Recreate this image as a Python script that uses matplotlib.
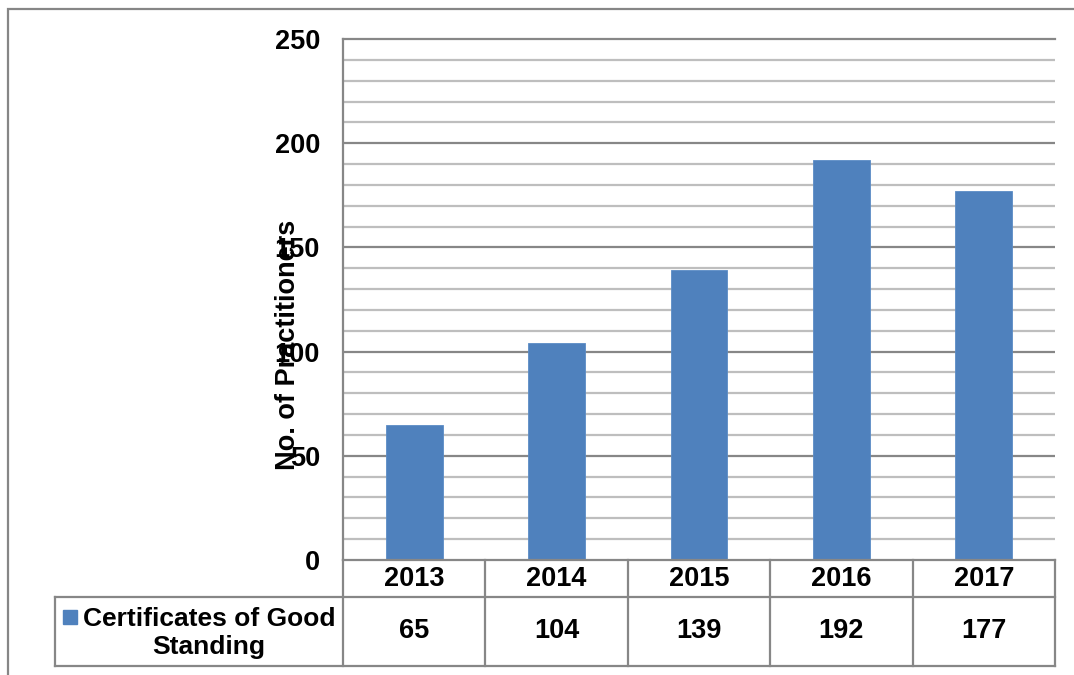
import matplotlib
matplotlib.use("Agg")
import matplotlib.pyplot as plt
from matplotlib.patches import Rectangle
from matplotlib.lines import Line2D

years = ["2013", "2014", "2015", "2016", "2017"]
values = [65, 104, 139, 192, 177]
series_name = "Certificates of Good\nStanding"
y_label = "No. of Practitioners"
y_ticks = [0, 50, 100, 150, 200, 250]

W, H = 1074, 675
fig = plt.figure(figsize=(W / 100, H / 100), dpi=100)
plt.rcParams['font.family'] = ['Liberation Sans', 'DejaVu Sans']
FS = 19.5

def fx(px):
    return px / W

def fy(py):
    return 1 - py / H

L, R, T, B = 343, 1055, 39, 560
ax = fig.add_axes([fx(L), fy(B), fx(R) - fx(L), fy(T) - fy(B)])

bar_color = "#4F81BD"
x = list(range(len(years)))
ax.bar(x, values, width=0.4, color=bar_color, edgecolor="#5B8CC6", linewidth=0.6, zorder=3)
ax.set_xlim(-0.5, len(years) - 0.5)
ax.set_ylim(0, 250)

# gridlines
for v in range(10, 250, 10):
    if v % 50 == 0:
        ax.axhline(v, color="#878787", lw=1.6, zorder=1)
    else:
        ax.axhline(v, color="#BEBEBE", lw=1.6, zorder=1)
ax.axhline(250, color="#878787", lw=1.6, zorder=1, clip_on=False)

for s in ["top", "right", "bottom"]:
    ax.spines[s].set_visible(False)
ax.spines["left"].set_color("#878787")
ax.spines["left"].set_linewidth(1.6)

ax.set_yticks(y_ticks)
ax.set_yticklabels([str(t) for t in y_ticks], fontsize=FS, fontweight="bold")
ax.tick_params(axis="y", length=0, pad=16.5)
ax.set_xticks([])

# y label
fig.text(fx(288), fy(345), y_label, rotation=90, ha="center", va="center",
         fontsize=FS, fontweight="bold")

# data table
line_c = "#878787"
lw = 1.6
y_hdr_bot = 597
y_tab_bot = 666
x_tab_left = 55

def add_line(x0, y0, x1, y1):
    fig.add_artist(Line2D([fx(x0), fx(x1)], [fy(y0), fy(y1)], color=line_c, lw=lw))

# x axis line
add_line(L, B, R, B)
# horizontal lines
add_line(x_tab_left, y_hdr_bot, R, y_hdr_bot)
add_line(x_tab_left, y_tab_bot, R, y_tab_bot)
# verticals
add_line(x_tab_left, y_hdr_bot, x_tab_left, y_tab_bot)
add_line(L, B, L, y_tab_bot)
# column boundaries via data transform
for i in range(len(years)):
    bx = ax.transData.transform((i + 0.5, 0))[0]
    add_line(bx, B, bx, y_tab_bot)

for i, (yr, v) in enumerate(zip(years, values)):
    cx = ax.transData.transform((i, 0))[0]
    fig.text(fx(cx), fy((B + y_hdr_bot) / 2 + 1), yr, ha="center", va="center",
             fontsize=FS, fontweight="bold")
    fig.text(fx(cx), fy((y_hdr_bot + y_tab_bot) / 2), str(v), ha="center", va="center",
             fontsize=FS, fontweight="bold")

# legend key + series name
fig.add_artist(Rectangle((fx(63), fy(624)), fx(14), fy(610) - fy(624), color=bar_color))
fig.text(fx(209), fy(633), series_name, ha="center", va="center", multialignment="center",
         fontsize=19, fontweight="bold", linespacing=1.2)

# outer frame
fig.add_artist(Rectangle((fx(8), fy(690)), fx(1090 - 8), fy(9) - fy(690), fill=False,
                         edgecolor="#868686", lw=1.6))

fig.savefig("out.png", dpi=100)
